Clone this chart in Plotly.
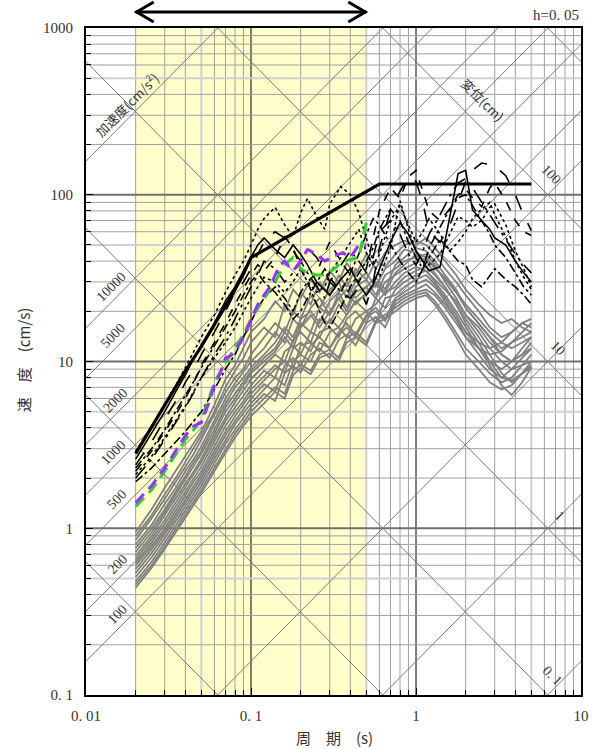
import math
import plotly.graph_objects as go

# ---------------- data ----------------
period_gray = [0.02, 0.025, 0.03, 0.035, 0.04, 0.045, 0.05,
               0.06, 0.07, 0.08, 0.09, 0.1,
               0.12, 0.14, 0.16, 0.18, 0.2,
               0.23, 0.26, 0.3, 0.34, 0.38, 0.43, 0.5,
               0.57, 0.65, 0.75, 0.85, 1.0,
               1.15, 1.3, 1.5, 1.75, 2.0,
               2.4, 2.8, 3.3, 3.8, 4.4, 5.0]

gray_1 = [0.95, 1.3, 1.75, 2.2, 2.7, 3.2, 3.8, 5.5, 7.8, 9.5, 12, 15, 18, 23, 20, 27, 24, 31, 26, 35, 30, 39, 33, 44, 36, 45, 50, 53, 50, 55, 48, 40, 33, 27, 22, 19, 17, 18, 16, 15]
gray_2 = [0.9, 1.2, 1.6, 2.0, 2.5, 3.0, 3.6, 5.0, 7.0, 8.8, 10.5, 13, 16, 14, 22, 19, 26, 22, 30, 25, 33, 28, 36, 31, 40, 37, 44, 50, 53, 50, 44, 36, 30, 25, 20, 16, 14, 15, 17, 16]
gray_3 = [0.85, 1.15, 1.5, 1.9, 2.3, 2.8, 3.4, 4.8, 6.5, 8.0, 9.0, 11, 14, 17, 15, 20, 18, 25, 21, 27, 30, 24, 30, 34, 28, 36, 40, 47, 45, 42, 36, 32, 26, 22, 18, 15, 13, 12, 13, 14]
gray_4 = [0.8, 1.05, 1.4, 1.75, 2.2, 2.6, 3.1, 4.4, 6.0, 7.4, 8.6, 10, 12, 15, 13, 18, 16, 21, 24, 19, 26, 30, 24, 28, 32, 27, 38, 42, 48, 46, 40, 33, 27, 21, 17, 14, 11, 10, 11, 12]
gray_5 = [0.76, 1.0, 1.3, 1.65, 2.05, 2.5, 2.9, 4.2, 5.6, 7.0, 8.0, 9.2, 11, 13, 16, 14, 18, 20, 17, 23, 26, 21, 28, 31, 25, 33, 36, 40, 42, 44, 38, 30, 24, 19, 15, 12, 10, 9, 9.5, 10]
gray_6 = [0.72, 0.95, 1.25, 1.6, 1.95, 2.35, 2.8, 3.9, 5.3, 6.4, 7.6, 8.8, 10.5, 12, 15, 13, 17, 15, 21, 19, 24, 27, 22, 26, 30, 26, 34, 38, 44, 40, 34, 28, 22, 18, 14, 11, 8.5, 7.5, 8.5, 9.5]
gray_7 = [0.68, 0.9, 1.2, 1.5, 1.85, 2.2, 2.6, 3.7, 5.0, 6.0, 7.2, 8.5, 10, 11.5, 14, 12, 16, 19, 16, 20, 24, 20, 26, 28, 24, 30, 33, 36, 39, 41, 37, 31, 26, 21, 17, 14, 12, 13, 15, 17]
gray_8 = [0.65, 0.86, 1.12, 1.42, 1.75, 2.1, 2.5, 3.5, 4.6, 5.7, 6.7, 7.8, 9.4, 11, 10, 13.5, 15, 13, 18, 17, 22, 19, 23, 25, 29, 25, 30, 34, 37, 35, 31, 27, 23, 19, 16, 13, 11, 10, 11, 13]
gray_9 = [0.62, 0.82, 1.06, 1.35, 1.65, 2.0, 2.35, 3.3, 4.4, 5.3, 6.2, 7.2, 8.8, 8.0, 11.5, 12.5, 11, 15, 14, 18, 16, 19, 23, 20, 22, 26, 28, 32, 35, 37, 33, 28, 22, 17, 13, 10, 8, 7.7, 8.5, 9.2]
gray_10 = [0.6, 0.78, 1.0, 1.28, 1.58, 1.9, 2.2, 3.1, 4.1, 5.0, 5.8, 6.8, 8.2, 9.5, 8.6, 12, 13, 11.5, 15, 16, 14, 18, 20, 17, 24, 21, 27, 30, 33, 35, 30, 25, 20, 16, 12, 9.5, 7.2, 6.3, 7.5, 9.2]
gray_11 = [0.57, 0.75, 0.96, 1.22, 1.5, 1.8, 2.1, 2.9, 3.8, 4.7, 5.5, 6.4, 7.7, 9.0, 10, 9, 12.5, 13, 11.5, 15, 16, 14, 18, 20, 17, 24, 25, 28, 31, 33, 29, 24, 19, 15, 12, 10, 9, 10, 12, 14]
gray_12 = [0.54, 0.71, 0.92, 1.16, 1.42, 1.7, 2.0, 2.75, 3.6, 4.4, 5.2, 6.0, 7.3, 6.6, 9.5, 10.5, 9.4, 12.5, 14, 12, 15, 17, 14.5, 19, 21, 18, 24, 26, 29, 31, 28, 23, 18, 14, 11, 9, 8, 9, 10.5, 12]
gray_13 = [0.51, 0.67, 0.87, 1.1, 1.35, 1.6, 1.9, 2.6, 3.4, 4.2, 4.9, 5.6, 6.8, 8.0, 7.2, 10, 11, 10, 13, 12, 14.5, 16, 14, 18.5, 20, 17.5, 23, 25, 27, 29, 26, 22, 18, 15, 13, 12, 13, 15, 17, 18]
gray_14 = [0.48, 0.63, 0.82, 1.04, 1.28, 1.52, 1.8, 2.45, 3.2, 3.9, 4.6, 5.3, 6.4, 5.8, 8.5, 9.4, 8.6, 11, 12, 10.5, 13.5, 14.5, 12.5, 17, 18.5, 16, 22, 24, 26, 27, 25, 21, 17, 14, 12, 11, 11.5, 13, 14, 15]
gray_15 = [0.46, 0.6, 0.78, 0.99, 1.22, 1.45, 1.7, 2.3, 3.0, 3.7, 4.3, 5.0, 6.0, 7.0, 6.4, 8.8, 9.6, 8.8, 11, 11.8, 10.5, 13.8, 15, 13, 17.5, 19, 21, 23, 25, 26, 23, 19, 15, 12, 10, 8.5, 7.5, 8, 9.5, 11]
gray_16 = [0.44, 0.58, 0.75, 0.95, 1.16, 1.38, 1.62, 2.2, 2.8, 3.5, 4.1, 4.7, 5.6, 6.6, 6.0, 8.3, 9.2, 8.4, 10.5, 11.2, 10, 13, 14, 12.5, 17, 18, 20, 22, 24, 25, 22, 18, 14, 11, 9, 7.5, 6.8, 7.2, 8.5, 10]

gray_curves = [gray_1, gray_2, gray_3, gray_4, gray_5, gray_6, gray_7, gray_8,
               gray_9, gray_10, gray_11, gray_12, gray_13, gray_14, gray_15, gray_16]

period_black = [0.02, 0.025, 0.03, 0.035, 0.04, 0.045, 0.05,
                0.06, 0.07, 0.08, 0.09, 0.1,
                0.11, 0.12, 0.14, 0.16, 0.18, 0.2,
                0.22, 0.25, 0.28, 0.3, 0.35, 0.4, 0.45, 0.5,
                0.55, 0.6, 0.7, 0.8, 0.9, 1.0,
                1.1, 1.2, 1.4, 1.6, 1.8, 2.0,
                2.2, 2.5, 2.8, 3.0, 3.5, 4.0, 4.5, 5.0]

black_1 = [2.6, 3.7, 5.0, 6.6, 8.3, 10.5, 12.5, 17, 23, 28, 35, 42, 50, 55, 47, 42, 50, 44, 38, 30, 27, 25, 31, 36, 29, 25, 29, 36, 52, 68, 58, 46, 40, 35, 37, 73, 134, 140, 81, 70, 62, 55, 50, 40, 34, 30]
black_2 = [2.4, 3.3, 4.5, 5.8, 7.5, 9.0, 11, 15, 20, 26, 30, 36, 44, 52, 60, 55, 46, 40, 48, 42, 35, 30, 26, 24, 28, 22, 30, 48, 80, 105, 128, 120, 90, 60, 52, 65, 90, 120, 140, 155, 152, 149, 130, 100, 75, 61]
black_3 = [2.9, 4.1, 5.6, 7.2, 9.2, 11.5, 14, 19, 26, 33, 40, 50, 62, 72, 84, 66, 56, 78, 95, 74, 62, 88, 112, 100, 78, 55, 40, 32, 48, 92, 62, 46, 40, 38, 44, 58, 74, 70, 64, 70, 84, 88, 66, 46, 36, 28]
black_4 = [1.9, 2.3, 2.8, 3.3, 3.8, 4.4, 5.0, 6.8, 9.0, 11, 14, 17, 21, 24, 28, 24, 20, 26, 30, 22, 17, 16, 21, 28, 34, 40, 48, 62, 82, 70, 52, 42, 36, 42, 54, 46, 40, 38, 31, 28, 33, 36, 31, 28, 25, 22]
black_5 = [2.2, 2.9, 3.8, 4.8, 6.0, 7.5, 9.5, 13, 17, 22, 27, 33, 38, 35, 42, 56, 48, 36, 30, 34, 45, 52, 40, 33, 30, 36, 55, 80, 110, 95, 128, 140, 105, 80, 70, 82, 100, 108, 96, 85, 110, 118, 92, 70, 60, 57]
black_6 = [2.0, 2.6, 3.4, 4.3, 5.3, 6.5, 8.0, 11, 14, 18, 23, 28, 33, 40, 36, 30, 34, 40, 34, 28, 24, 30, 38, 46, 40, 34, 42, 60, 70, 58, 44, 38, 46, 58, 76, 98, 118, 125, 110, 90, 75, 68, 54, 44, 38, 34]
black_7 = [2.1, 2.7, 3.5, 4.4, 5.4, 6.6, 8.0, 10.5, 13, 16, 20, 24, 28, 32, 30, 26, 30, 36, 30, 26, 28, 34, 42, 52, 62, 45, 38, 44, 70, 86, 66, 52, 60, 72, 58, 46, 52, 60, 72, 82, 90, 76, 56, 40, 32, 27]
black_8 = [2.3, 3.0, 3.9, 5.0, 6.2, 7.6, 9.2, 12.5, 16, 20, 25, 30, 34, 30, 26, 22, 18, 20, 24, 30, 36, 32, 26, 34, 44, 58, 72, 66, 50, 40, 34, 30, 36, 48, 64, 82, 96, 100, 86, 70, 58, 50, 42, 34, 28, 25]

black_curves = [black_1, black_2, black_3, black_4, black_5, black_6, black_7, black_8]
black_dashes = ["solid", "longdash", "dot", "dashdot", "dash", "longdashdot", "dot", "dashdot"]

design_T = [0.02, 0.03, 0.04, 0.05, 0.06, 0.07, 0.08, 0.09, 0.1, 0.6, 5.0]
design_Sv = [2.8, 5.5, 8.8, 12.3, 16.5, 21.5, 27, 33.5, 42, 116, 116]

green_T = [0.02, 0.025, 0.03, 0.035, 0.04, 0.045, 0.05, 0.055, 0.06, 0.07, 0.08, 0.09, 0.1,
           0.11, 0.12, 0.13, 0.14, 0.15, 0.16, 0.18, 0.2, 0.22, 0.25, 0.28, 0.32, 0.36, 0.4, 0.45, 0.5]
green_Sv = [1.35, 1.7, 2.2, 2.8, 3.4, 3.9, 4.5, 5.8, 7.5, 9.8, 12, 14.5, 18,
            21, 24, 27, 30, 34, 38, 42, 36, 34, 33, 33, 36, 40, 41, 42, 68]

purple_T = [0.02, 0.025, 0.03, 0.035, 0.04, 0.045, 0.05, 0.055, 0.06, 0.065, 0.07, 0.075, 0.08, 0.09, 0.1,
            0.11, 0.12, 0.13, 0.14, 0.15, 0.16, 0.17, 0.18, 0.2, 0.22, 0.25, 0.28, 0.32, 0.36, 0.4, 0.45, 0.5]
purple_Sv = [1.42, 1.8, 2.3, 2.9, 3.6, 4.1, 4.3, 5.5, 7.2, 8.5, 10.5, 10.8, 11.5, 14, 18,
             22, 25, 28, 33, 38, 40, 37, 35, 40, 47, 44, 40, 43, 45, 42, 50, 50]

accel_lines = [0.1, 1, 10, 100, 200, 500, 1000, 2000, 5000, 10000, 100000]
disp_lines = [0.001, 0.01, 0.1, 1, 10, 100, 1000]
accel_labels = ["100", "200", "500", "1000", "2000", "5000", "10000"]
disp_labels = ["100", "10", "1", "0. 1"]
disp_label_vals = [100, 10, 1, 0.1]

x_tickvals = [0.01, 0.1, 1, 10]
x_ticktext = ["0. 01", "0. 1", "1", "10"]
y_tickvals = [0.1, 1, 10, 100, 1000]
y_ticktext = ["0. 1", "1", "10", "100", "1000"]

band_T = [0.02, 0.5]

# label anchor periods along their lines (layout, not data)
accel_label_T = [0.0155, 0.0155, 0.0153, 0.0146, 0.0150, 0.0146, 0.0143]
disp_label_T = [5.82, 6.43, 6.52, 5.9]

# ---------------- figure ----------------
TWO_PI = 2 * math.pi
SERIF = "Liberation Serif, DejaVu Serif, serif"
JP = "Noto Sans CJK JP, sans-serif"

fig = go.Figure()

shapes = []
shapes.append(dict(type="rect", xref="x", yref="paper", x0=band_T[0], x1=band_T[1], y0=0, y1=1,
                   fillcolor="#FFFFCC", line=dict(width=0), layer="below"))
for dec in [0.01, 0.1, 1]:
    for m in range(1, 10):
        v = m * dec
        if v <= 0.01 or v >= 10:
            continue
        if m == 1:
            col, w = "black", 1
        elif m == 5:
            col, w = "#d0d0d0", 2
        else:
            col, w = "#a0a0a0", 1
        shapes.append(dict(type="line", xref="x", yref="paper", x0=v, x1=v, y0=0, y1=1,
                           line=dict(color=col, width=w), layer="below"))
for dec in [0.1, 1, 10, 100]:
    for m in range(1, 10):
        v = m * dec
        if v <= 0.1 or v >= 1000:
            continue
        if m == 1:
            col, w = "#707070", 2
        elif m == 5:
            col, w = "#d0d0d0", 2
        else:
            col, w = "#a0a0a0", 1
        shapes.append(dict(type="line", xref="paper", yref="y", x0=0, x1=1, y0=v, y1=v,
                           line=dict(color=col, width=w), layer="below"))

ya = 1.024
shapes.append(dict(type="line", xref="x", yref="paper", x0=band_T[0], x1=band_T[1], y0=ya, y1=ya,
                   line=dict(color="black", width=3)))
shapes.append(dict(type="path", xref="x", yref="paper", xsizemode="pixel", ysizemode="pixel",
                   xanchor=band_T[0], yanchor=ya, path="M 18 10 L 1 0 L 18 -10",
                   line=dict(color="black", width=3)))
shapes.append(dict(type="path", xref="x", yref="paper", xsizemode="pixel", ysizemode="pixel",
                   xanchor=band_T[1], yanchor=ya, path="M -18 10 L -1 0 L -18 -10",
                   line=dict(color="black", width=3)))

T_span = [0.001, 100]
for A in accel_lines:
    fig.add_trace(go.Scatter(x=T_span, y=[A * t / TWO_PI for t in T_span], mode="lines",
                             line=dict(color="#7a7a7a", width=1), hoverinfo="skip", showlegend=False))
for D in disp_lines:
    fig.add_trace(go.Scatter(x=T_span, y=[TWO_PI * D / t for t in T_span], mode="lines",
                             line=dict(color="#7a7a7a", width=1), hoverinfo="skip", showlegend=False))

for g in gray_curves:
    fig.add_trace(go.Scatter(x=period_gray, y=g, mode="lines",
                             line=dict(color="#808080", width=1.8), showlegend=False))
for b, d in zip(black_curves, black_dashes):
    fig.add_trace(go.Scatter(x=period_black, y=b, mode="lines",
                             line=dict(color="black", width=1.6, dash=d), showlegend=False))
fig.add_trace(go.Scatter(x=design_T, y=design_Sv, mode="lines",
                         line=dict(color="black", width=3.2), showlegend=False))
fig.add_trace(go.Scatter(x=green_T, y=green_Sv, mode="lines",
                         line=dict(color="#33CC33", width=3, dash="12px,7px"), showlegend=False))
fig.add_trace(go.Scatter(x=purple_T, y=purple_Sv, mode="lines",
                         line=dict(color="#9933FF", width=3, dash="12px,7px"), showlegend=False))

annotations = []
for txt, t in zip(accel_labels, accel_label_T):
    A = float(txt)
    annotations.append(dict(x=math.log10(t), y=math.log10(A * t / TWO_PI), xref="x", yref="y",
                            text=txt, showarrow=False, textangle=-45, yshift=15,
                            xanchor="center", yanchor="middle",
                            font=dict(family=SERIF, size=14, color="#333")))
T_acc = 0.0176
annotations.append(dict(x=math.log10(T_acc), y=math.log10(100000 * T_acc / TWO_PI), xref="x", yref="y",
                        text="加速度(cm/s<sup>2</sup>)", showarrow=False, textangle=-45, yshift=16,
                        xanchor="center", yanchor="middle",
                        font=dict(family=JP, size=13, color="#333")))
for txt, D, t in zip(disp_labels, disp_label_vals, disp_label_T):
    annotations.append(dict(x=math.log10(t), y=math.log10(TWO_PI * D / t), xref="x", yref="y",
                            text=txt, showarrow=False, textangle=45, yshift=15, xshift=9,
                            xanchor="center", yanchor="middle",
                            font=dict(family=SERIF, size=14, color="#333")))
T_dd = 2.14
annotations.append(dict(x=math.log10(T_dd), y=math.log10(TWO_PI * 100 / T_dd), xref="x", yref="y",
                        text="変位(cm)", showarrow=False, textangle=45, yshift=17, xshift=12,
                        xanchor="center", yanchor="middle",
                        font=dict(family=JP, size=13, color="#333")))
annotations.append(dict(x=-0.127, y=0.502, xref="paper", yref="paper", text="速　度　(cm/s)",
                        xanchor="center", yanchor="middle",
                        showarrow=False, textangle=-90, font=dict(family=JP, size=15, color="#333")))
annotations.append(dict(x=0.503, y=-0.064, xref="paper", yref="paper", text="周　期　(s)",
                        xanchor="center", yanchor="middle",
                        showarrow=False, font=dict(family=JP, size=15, color="#333")))
annotations.append(dict(x=1.0, y=1.0195, xref="paper", yref="paper", text="h=0. 05",
                        xanchor="right", yanchor="middle",
                        showarrow=False, font=dict(family=SERIF, size=15, color="#333")))

fig.update_layout(
    width=597, height=749,
    margin=dict(l=86, r=8, t=28, b=54),
    paper_bgcolor="white", plot_bgcolor="white",
    shapes=shapes, annotations=annotations,
    showlegend=False,
    xaxis=dict(type="log", range=[-2, 1], tickvals=x_tickvals, ticktext=x_ticktext,
               showgrid=False, zeroline=False, showline=True, linecolor="black", linewidth=2,
               mirror=True, ticks="inside", ticklen=7, tickcolor="black",
               minor=dict(ticks="inside", ticklen=5, tickcolor="black", dtick="D1", showgrid=False),
               tickfont=dict(family=SERIF, size=15, color="#333"), ticklabelstandoff=6),
    yaxis=dict(type="log", range=[-1, 3], tickvals=y_tickvals, ticktext=y_ticktext,
               showgrid=False, zeroline=False, showline=True, linecolor="black", linewidth=2,
               mirror=True, ticks="inside", ticklen=7, tickcolor="black",
               minor=dict(ticks="inside", ticklen=5, tickcolor="black", dtick="D1", showgrid=False),
               tickfont=dict(family=SERIF, size=15, color="#333"), ticklabelstandoff=8),
)

fig.write_html("out.html", config={"displayModeBar": False},
               post_script="document.body.style.margin='0';")
